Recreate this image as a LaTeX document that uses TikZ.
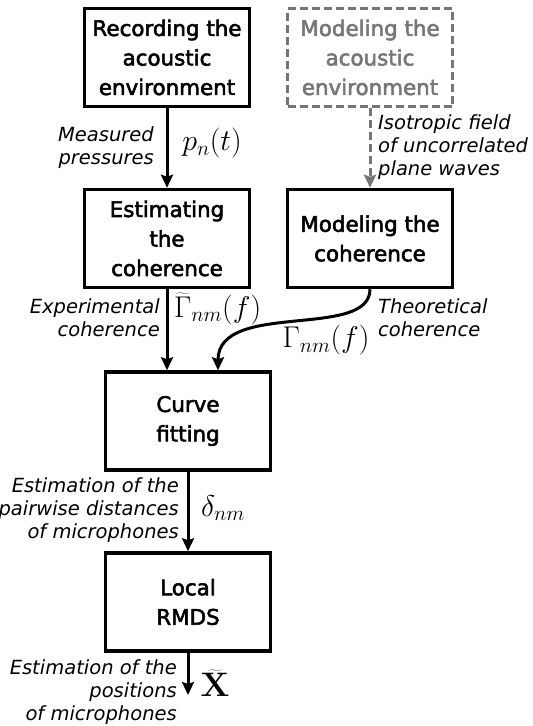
\documentclass[tikz,border=0pt]{standalone}
\usepackage{fix-cm}
\usepackage[no-math]{fontspec}
\setmainfont{DejaVu Sans}
\newfontfamily\boxfont[FakeBold=2.5]{DejaVu Sans}
\usetikzlibrary{arrows.meta}
\definecolor{dgray}{RGB}{118,118,118}
\begin{document}
\begin{tikzpicture}[x=1pt,y=-1pt,
  box/.style={draw, line width=3.5pt, minimum width=165pt, minimum height=98pt, inner sep=0pt, align=center, font=\fontsize{21.4}{29.5}\selectfont\boxfont},
  lbl/.style={inner sep=0pt, font=\fontsize{19.5}{23}\selectfont\itshape},
  mth/.style={inner sep=0pt, font=\fontsize{30}{32}\selectfont},
  arr/.style={line width=3pt, -{Stealth[length=13pt,width=12pt,inset=2pt]}}]
\useasboundingbox (0,0) rectangle (533,726);
\node[box] (rec) at (167,57.5) {Recording the\\acoustic\\environment};
\node[box, draw=dgray, text=dgray, dash pattern=on 8pt off 4pt] (mod) at (370,57.5) {Modeling the\\acoustic\\environment};
\node[box] (est) at (167,238.5) {Estimating\\the\\coherence};
\node[box] (mcoh) at (370,238.5) {Modeling the\\coherence};
\node[box] (fit) at (188,421) {Curve\\fitting};
\node[box] (rmds) at (188,602) {Local\\RMDS};
\coordinate (out) at (188,695);
% arrows
\draw[arr] (rec) -- (est);
\draw[arr, draw=dgray, dash pattern=on 8pt off 4pt] (mod) -- (mcoh);
\draw[arr] (est.south) -- (est.south |- fit.north);
\draw[arr] (mcoh.south) .. controls (370,340) and (218,300) .. ([xshift=30pt]fit.north);
\draw[arr] (fit) -- (rmds);
\draw[arr] (rmds) -- (out);
% labels
\node[lbl, align=right, anchor=east] (l1) at (154,148) {Measured\\pressures};
\node[mth] (m1) at (212,143) {$p_n(t)$};
\node[lbl, align=left, anchor=west] (l2) at (378,147) {Isotropic field\\of uncorrelated\\plane waves};
\node[lbl, align=right, anchor=east] (l3) at (160,318) {Experimental\\coherence};
\node[mth, anchor=west] (m2) at (174,309) {$\widetilde{\Gamma}_{nm}(f)$};
\node[lbl, align=left, anchor=west] (l4) at (378,318) {Theoretical\\coherence};
\node[mth] (m3) at (326,340) {$\Gamma_{nm}(f)$};
\node[lbl, align=right, anchor=east] (l5) at (179,510) {Estimation of the\\pairwise distances\\of microphones};
\node[mth] (m4) at (223,508) {$\delta_{nm}$};
\node[lbl, align=right, anchor=east] (l6) at (177,692) {Estimation of the\\positions\\of microphones};
\node[mth, font=\fontsize{34}{36}\selectfont] (m5) at (215,683) {$\widetilde{\mathbf{X}}$};
\end{tikzpicture}
\end{document}
